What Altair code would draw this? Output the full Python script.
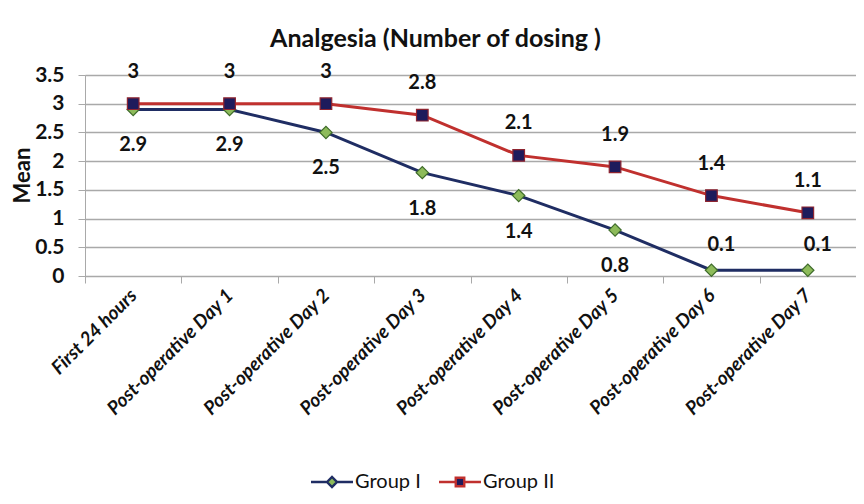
import altair as alt
import pandas as pd

categories = ["First 24 hours", "Post-operative Day 1", "Post-operative Day 2",
              "Post-operative Day 3", "Post-operative Day 4", "Post-operative Day 5",
              "Post-operative Day 6", "Post-operative Day 7"]
group_1 = [2.9, 2.9, 2.5, 1.8, 1.4, 0.8, 0.1, 0.1]
group_2 = [3.0, 3.0, 3.0, 2.8, 2.1, 1.9, 1.4, 1.1]
groups = ["Group I", "Group II"]
y_ticks = [0, 0.5, 1, 1.5, 2, 2.5, 3, 3.5]

rows = []
for i, c in enumerate(categories):
    rows.append({"cat": c, "group": groups[0], "value": group_1[i], "order": i})
    rows.append({"cat": c, "group": groups[1], "value": group_2[i], "order": i})
df = pd.DataFrame(rows)

FONT = "Lato"
NAVY = "#1F2D63"
RED = "#C0302E"
GREEN = "#8DBB5A"
DARKNAVY = "#1E1B5C"
GRID = "#A9A9A9"
INK = "#111111"

x_enc = alt.X("cat:N", sort=categories, title=None,
              scale=alt.Scale(type="band", paddingInner=0, paddingOuter=0),
              axis=alt.Axis(labelAngle=-45, labelAlign="right", labelBaseline="middle",
                            labelFont=FONT, labelFontSize=19, labelFontWeight="bold",
                            labelFontStyle="italic", labelColor=INK,
                            labelPadding=9, tickBand="extent", tickSize=7,
                            tickColor=GRID, domainColor=GRID, grid=False))
y_enc = alt.Y("value:Q", title="Mean",
              scale=alt.Scale(domain=[0, 3.5], nice=False),
              axis=alt.Axis(values=y_ticks, format="~g", labelFont=FONT, labelFontSize=21,
                            labelFontWeight="bold", labelColor=INK, labelPadding=14,
                            tickSize=7, tickColor=GRID, domainColor=GRID,
                            gridColor=GRID, gridWidth=1.3,
                            titleFont=FONT, titleFontSize=22, titleFontWeight="bold",
                            titleColor=INK, titleX=-63, titleY=100,
                            titleAlign="center", titleBaseline="middle", titleAngle=-90))

diamond_leg = "M-4.2,0L-1,0M1,0L4.2,0M-1,0L0,-1L1,0L0,1Z"
square_leg = "M-4.2,0L-0.85,0M0.85,0L4.2,0M-0.85,-0.85L0.85,-0.85L0.85,0.85L-0.85,0.85Z"

def make_legend():
    return alt.Legend(title=None, orient="none", direction="horizontal",
                      legendX=237, legendY=397, symbolSize=100,
                      symbolOpacity=1, symbolStrokeWidth=2.4,
                      labelFont=FONT, labelFontSize=20, labelColor=INK,
                      labelOffset=13, columnPadding=13, padding=0)

stroke_enc = alt.Stroke("group:N", scale=alt.Scale(domain=groups, range=[NAVY, RED]),
                        legend=make_legend())

base = alt.Chart(df)

lines = base.mark_line(strokeWidth=3).encode(
    x=x_enc, y=y_enc, stroke=stroke_enc, detail="group:N", order="order:Q")

pts1 = base.transform_filter(alt.datum.group == groups[0]).mark_point(
    shape="diamond", size=150, filled=True, fill=GREEN, stroke="#3E6B2A", strokeWidth=1.2,
    opacity=1).encode(x=x_enc, y=y_enc)
pts2 = base.transform_filter(alt.datum.group == groups[1]).mark_point(
    shape="square", size=135, filled=True, fill=DARKNAVY, stroke="#8E2430", strokeWidth=1.2,
    opacity=1).encode(x=x_enc, y=y_enc)

legend_layer = base.mark_point(opacity=0, filled=True, strokeWidth=2.4).encode(
    x=x_enc, y=y_enc,
    shape=alt.Shape("group:N", scale=alt.Scale(domain=groups, range=[diamond_leg, square_leg]),
                    legend=make_legend()),
    fill=alt.Fill("group:N", scale=alt.Scale(domain=groups, range=[GREEN, DARKNAVY]),
                  legend=make_legend()),
    stroke=stroke_enc)

txt = dict(font=FONT, fontSize=20, fontWeight="bold", color=INK)
lab2 = base.transform_filter(alt.datum.group == groups[1]).mark_text(dy=-32, **txt).encode(
    x=x_enc, y=y_enc, text=alt.Text("value:Q", format="~g"))
lab1_below = base.transform_filter(
    (alt.datum.group == groups[0]) & (alt.datum.value >= 0.5)).mark_text(dy=36, **txt).encode(
    x=x_enc, y=y_enc, text=alt.Text("value:Q", format="~g"))
lab1_above = base.transform_filter(
    (alt.datum.group == groups[0]) & (alt.datum.value < 0.5)).mark_text(dy=-25, dx=10, **txt).encode(
    x=x_enc, y=y_enc, text=alt.Text("value:Q", format="~g"))

chart = alt.layer(lines, pts1, pts2, legend_layer, lab2, lab1_below, lab1_above).properties(
    width=771, height=201,
    padding={"left": 77, "top": 67, "right": 0, "bottom": 216},
    autosize=alt.AutoSizeParams(type="none"),
    title=alt.TitleParams("Analgesia (Number of dosing )", font=FONT, fontSize=25,
                          fontWeight="bold", color=INK, anchor="middle",
                          frame="group", dx=-35, offset=10),
).configure_view(stroke=None).configure(background="white")

chart.save("out.html", embed_options={"renderer": "svg", "actions": False})
